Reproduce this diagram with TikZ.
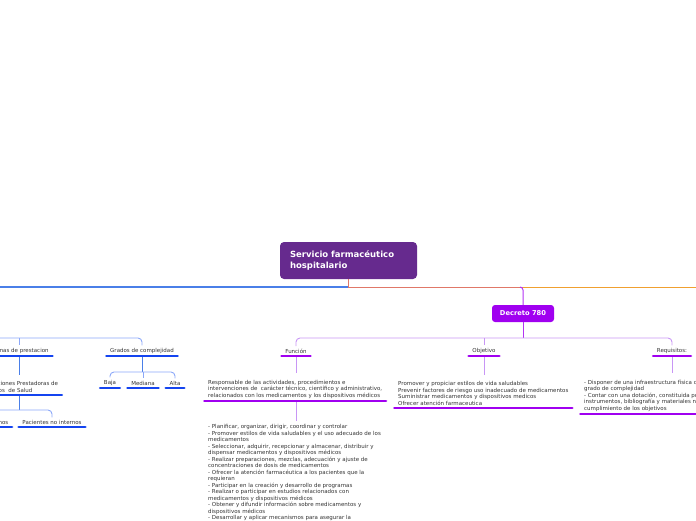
\documentclass[tikz,border=0pt]{standalone}
\usepackage{fontspec}
\setmainfont{DejaVu Sans}
\usepackage{xcolor}

\definecolor{ink}{RGB}{51,51,51}
\definecolor{hospital}{RGB}{102,42,142}
\definecolor{decree}{RGB}{160,0,240}
\definecolor{lilac}{RGB}{200,150,245}
\definecolor{salmon}{RGB}{224,120,104}
\definecolor{amber}{RGB}{240,160,48}
\definecolor{midblue}{RGB}{74,127,232}
\definecolor{deepblue}{RGB}{20,68,240}
\definecolor{paleblue}{RGB}{140,168,248}

\begin{document}
\begin{tikzpicture}[x=1pt, y=-1pt,
every node/.style={font=\fontsize{5.5}{6.5}\selectfont, text=ink},
mainbox/.style={fill=hospital, rounded corners=4pt, minimum width=137pt, minimum height=37pt,
  text width=117pt, align=left, inner sep=0pt, text=white, font=\bfseries\fontsize{8.5}{11}\selectfont},
decbox/.style={fill=decree, rounded corners=3pt, minimum width=62pt, minimum height=17pt,
  inner sep=0pt, text=white, font=\bfseries\fontsize{6.7}{7}\selectfont},
topic/.style={inner xsep=5pt, inner ysep=2.5pt, anchor=south},
block/.style={inner xsep=5pt, inner ysep=2.5pt, align=left, anchor=south west},
pbar/.style={decree, line width=2.8pt, line cap=round, shorten <=1.4pt, shorten >=1.4pt},
bbar/.style={deepblue, line width=2.8pt, line cap=round, shorten <=1.4pt, shorten >=1.4pt},
plink/.style={lilac, line width=0.9pt},
blink/.style={paleblue, line width=0.9pt}]
\useasboundingbox (0,0) rectangle (696,520);
\clip (0,0) rectangle (696,520);

\node[mainbox] (svc) at (348.5,260.5) {Servicio farmacéutico\\hospitalario};
\node[decbox] (dec) at (523,313.5) {Decreto 780};

\coordinate (hub) at (348.5,287);
\coordinate (west) at (-5,287);
\coordinate (east) at (701,287);
\draw[amber, line width=1pt] (hub) -- (east);
\draw[midblue, line width=1.2pt] (hub) -- (west);
\draw[salmon, line width=1pt] (svc.south) -- (hub) -- ([xshift=-3pt]dec.north |- hub);
\draw[decree!80, line width=1pt, rounded corners=3pt] ([xshift=-3pt]dec.north |- hub) -- (dec.north |- hub) -- (dec.north);

% Decreto 780
\node[topic] (fn) at (296,356) {Función};
\node[topic] (obj) at (484,356) {Objetivo};
\node[topic] (req) at (672,356) {Requisitos:};

\node[block] (fndesc) at (203,401) {Responsable de las actividades, procedimientos e\\
intervenciones de\ \ carácter técnico, científico y administrativo,\\
relacionados con los medicamentos y los dispositivos médicos};
\node[inner xsep=5pt, inner ysep=0pt, align=left, anchor=north west] (fnlist) at (203,424.5) {- Planificar, organizar, dirigir, coordinar y controlar\\
- Promover estilos de vida saludables y el uso adecuado de los\\
medicamentos\\
- Seleccionar, adquirir, recepcionar y almacenar, distribuir y\\
dispensar medicamentos y dispositivos médicos\\
- Realizar preparaciones, mezclas, adecuación y ajuste de\\
concentraciones de dosis de medicamentos\\
- Ofrecer la atención farmacéutica a los pacientes que la\\
requieran\\
- Participar en la creación y desarrollo de programas\\
- Realizar o participar en estudios relacionados con\\
medicamentos y dispositivos médicos\\
- Obtener y difundir información sobre medicamentos y\\
dispositivos médicos\\
- Desarrollar y aplicar mecanismos para asegurar la};
\node[block] (objdesc) at (393,408) {Promover y propiciar estilos de vida saludables\\
Prevenir factores de riesgo uso inadecuado de medicamentos\\
Suministrar medicamentos y dispositivos medicos\\
Ofrecer atención farmaceutica};
\node[block] (reqdesc) at (579,414) {- Disponer de una infraestructura física de\\
grado de complejidad\\
- Contar con una dotación, constituida por\\
instrumentos, bibliografía y materiales ne\\
cumplimiento de los objetivos};

\coordinate (pfork) at (0,338);
\draw[decree!80, line width=0.9pt] (dec.south) -- (dec.south |- pfork);
\draw[plink, rounded corners=4pt] (fn.north) -- (fn.north |- pfork) -- (req.north |- pfork) -- (req.north);
\draw[plink] (obj.north |- pfork) -- (obj.north);
\draw[plink, shorten >=4pt] (fn.south) -- (fn.south |- fndesc.north);
\draw[plink, shorten >=4pt] (fn |- fndesc.south) -- (fn |- fnlist.north);
\draw[plink, shorten >=4pt] (obj.south) -- (obj.south |- objdesc.north);
\draw[plink, shorten >=4pt] (req.south) -- (req.south |- reqdesc.north);
\foreach \n in {fn,obj,req,fndesc,objdesc,reqdesc}
  \draw[pbar] (\n.south west) -- (\n.south east);

% left branch
\node[topic] (fp) at (19,356) {Formas de prestacion};
\node[topic] (gc) at (142,356) {Grados de complejidad};
\node[block] (ips) at (-25,395) {Instituciones Prestadoras de\\Servicios\ \ de Salud};
\node[topic] (pi) at (-17,427) {Pacientes internos};
\node[topic] (pni) at (52,427) {Pacientes no internos};
\node[topic] (baja) at (110,388) {Baja};
\node[topic] (med) at (143,388) {Mediana};
\node[topic] (alta) at (175,388) {Alta};

\coordinate (bwest) at (-5,338);
\coordinate (ifork) at (0,410);
\coordinate (gfork) at (0,372);
\draw[blink, rounded corners=4pt] (bwest) -- (gc.north |- bwest) -- (gc.north);
\draw[blink] (fp.north |- bwest) -- (fp.north);
\draw[midblue, line width=0.9pt, shorten >=4pt] (fp.south) -- (fp.south |- ips.north);
\draw[midblue, line width=0.9pt] (fp |- ips.south) -- (fp |- ifork);
\draw[blink, rounded corners=4pt] (pi.north) -- (pi.north |- ifork) -- (pni.north |- ifork) -- (pni.north);
\draw[midblue, line width=0.9pt] (gc.south) -- (gc.south |- gfork);
\draw[blink, rounded corners=4pt] (baja.north) -- (baja.north |- gfork) -- (alta.north |- gfork) -- (alta.north);
\draw[blink] (med.north |- gfork) -- (med.north);
\foreach \n in {fp,gc,ips,pi,pni,baja,med,alta}
  \draw[bbar] (\n.south west) -- (\n.south east);
\end{tikzpicture}
\end{document}
